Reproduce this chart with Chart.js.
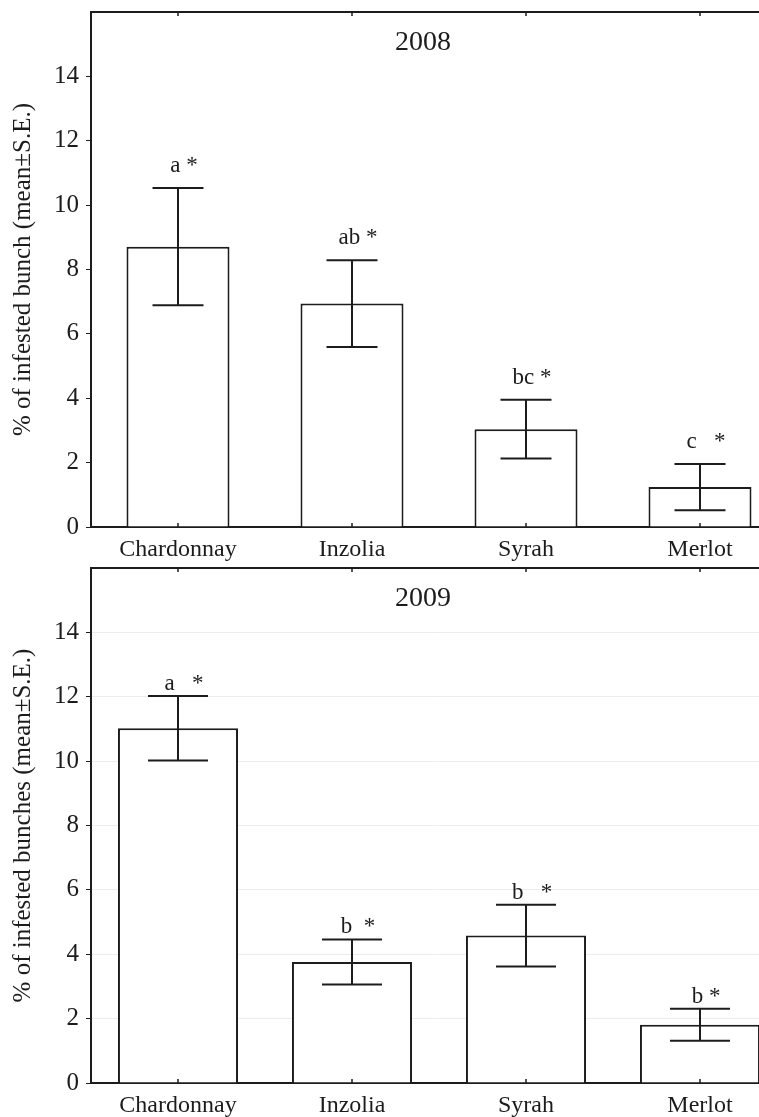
<!DOCTYPE html>
<html>
<head>
<meta charset="utf-8">
<script src="https://cdn.jsdelivr.net/npm/chart.js@4.4.1/dist/chart.umd.min.js"></script>
<style>
  html, body { margin: 0; padding: 0; background: #fff; overflow: hidden; width: 759px; height: 1117px; }
  canvas { position: absolute; left: 0; }
  #c2008 { top: 0; }
  #c2009 { top: 562px; }
</style>
</head>
<body>
<canvas id="c2008" width="800" height="562"></canvas>
<canvas id="c2009" width="800" height="555"></canvas>
<script>
const cultivars = ["Chardonnay", "Inzolia", "Syrah", "Merlot"];

// 2008, % of infested bunch, mean and S.E.
const mean2008 = [8.71, 6.94, 3.04, 1.24];
const se2008 = [1.82, 1.35, 0.91, 0.72];
const letters2008 = ["a *", "ab *", "bc *", "c   *"];

// 2009, % of infested bunches
const mean2009 = [11.02, 3.76, 4.58, 1.81];
const se2009 = [1.0, 0.70, 0.96, 0.50];
const letters2009 = ["a   *", "b  *", "b   *", "b *"];

const yTicks = [0, 2, 4, 6, 8, 10, 12, 14];

const serif = "'Liberation Serif', 'Times New Roman', serif";
const ink = "#1c1c1c";

// error bars, letters, frame and year drawn on top of the bars
const extras = {
  id: "extras",
  afterDatasetsDraw(chart, args, opts) {
    const ctx = chart.ctx;
    const area = chart.chartArea;
    const x = chart.scales.x, y = chart.scales.y;
    const meta = chart.getDatasetMeta(0);
    ctx.save();
    ctx.strokeStyle = ink;
    ctx.lineWidth = 2;

    // top border with small inward ticks
    ctx.beginPath();
    ctx.moveTo(area.left, area.top);
    ctx.lineTo(area.right + 20, area.top);
    ctx.stroke();
    ctx.lineWidth = 1.5;
    cultivars.forEach((c, i) => {
      const px = x.getPixelForValue(i);
      ctx.beginPath();
      ctx.moveTo(px, area.top);
      ctx.lineTo(px, area.top + 4);
      ctx.moveTo(px, area.bottom);
      ctx.lineTo(px, area.bottom - 4);
      ctx.stroke();
    });

    ctx.lineWidth = 2;
    meta.data.forEach((bar, i) => {
      const m = opts.mean[i], s = opts.se[i];
      const yu = y.getPixelForValue(m + s);
      const yl = y.getPixelForValue(m - s);
      const h = opts.cap;
      ctx.beginPath();
      ctx.moveTo(bar.x, yu);
      ctx.lineTo(bar.x, yl);
      ctx.moveTo(bar.x - h, yu);
      ctx.lineTo(bar.x + h, yu);
      ctx.moveTo(bar.x - h, yl);
      ctx.lineTo(bar.x + h, yl);
      ctx.stroke();

      ctx.fillStyle = ink;
      ctx.font = "23px " + serif;
      ctx.textAlign = "center";
      ctx.textBaseline = "middle";
      ctx.fillText(opts.letters[i], bar.x + 6, yu - opts.gap);
    });

    ctx.font = "28px " + serif;
    ctx.textAlign = "center";
    ctx.textBaseline = "middle";
    ctx.fillStyle = ink;
    ctx.fillText(opts.year, area.left + 332, area.top + 31);
    ctx.restore();
  }
};

function makeChart(id, means, se, letters, year, yTitle, opt) {
  return new Chart(document.getElementById(id), {
    type: "bar",
    data: {
      labels: cultivars,
      datasets: [{
        data: means,
        backgroundColor: "#ffffff",
        borderColor: ink,
        borderWidth: 2,
        categoryPercentage: 1,
        barPercentage: opt.barPct
      }]
    },
    options: {
      responsive: false,
      animation: false,
      devicePixelRatio: 1,
      layout: { padding: { top: opt.padTop, right: 13, left: 0, bottom: 0 } },
      plugins: {
        legend: { display: false },
        tooltip: { enabled: false },
        extras: { mean: means, se: se, letters: letters, year: year, cap: opt.cap, gap: opt.gap }
      },
      scales: {
        x: {
          grid: { display: false },
          border: { display: true, color: ink, width: 2 },
          ticks: { color: ink, font: { family: serif, size: 24 }, padding: 0 },
          afterFit(s) { s.height = opt.xHeight; s.paddingLeft = 0; s.paddingRight = 0; }
        },
        y: {
          min: 0,
          max: 16,
          afterBuildTicks(s) { s.ticks = yTicks.map(v => ({ value: v })); },
          grid: {
            drawOnChartArea: opt.gridLines,
            color: "#ececec",
            tickColor: ink,
            tickLength: 5,
            lineWidth: 1
          },
          border: { display: true, color: ink, width: 2 },
          ticks: { color: ink, font: { family: serif, size: 25 }, padding: 7 },
          title: {
            display: true,
            text: yTitle,
            color: ink,
            font: { family: serif, size: 25 },
            padding: { top: 8, bottom: 0 }
          },
          afterFit(s) { s.width = 91; s.paddingTop = 0; s.paddingBottom = 0; }
        }
      }
    },
    plugins: [extras]
  });
}

makeChart("c2008", mean2008, se2008, letters2008, "2008",
  "% of infested bunch (mean\u00b1S.E.)",
  { barPct: 0.592, padTop: 12, xHeight: 35, cap: 25.5, gap: 22, gridLines: false });

makeChart("c2009", mean2009, se2009, letters2009, "2009",
  "% of infested bunches (mean\u00b1S.E.)",
  { barPct: 0.69, padTop: 6, xHeight: 34, cap: 30, gap: 12, gridLines: true });
</script>
</body>
</html>
